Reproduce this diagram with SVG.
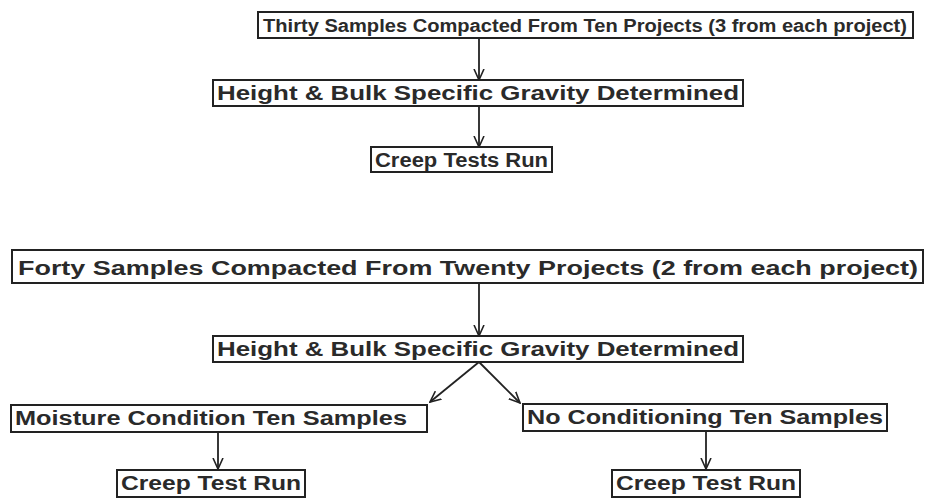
<svg xmlns="http://www.w3.org/2000/svg" width="931" height="502" viewBox="0 0 931 502">
<defs>
<marker id="ah" viewBox="0 0 12 12" refX="11" refY="6" markerWidth="12" markerHeight="12" markerUnits="userSpaceOnUse" orient="auto">
<path d="M0,1 L11,6 L0,11" fill="none" stroke="#222" stroke-width="1.6"/>
</marker>
</defs>
<style>
.box{fill:#fff;stroke:#222;stroke-width:2}
.t{font-family:"Liberation Sans",Arial,sans-serif;font-size:20px;font-weight:bold;fill:#2a2a2a}
.s{font-size:18px}
.c{stroke:#222;stroke-width:1.8;fill:none;marker-end:url(#ah)}
</style>
<g id="connectors">
<line class="c" x1="479" y1="37" x2="479" y2="80"/>
<line class="c" x1="479" y1="106" x2="479" y2="147"/>
<line class="c" x1="479" y1="283" x2="479" y2="336"/>
<line class="c" x1="479" y1="362" x2="430" y2="402"/>
<line class="c" x1="479" y1="362" x2="520" y2="403"/>
<line class="c" x1="218" y1="432" x2="218" y2="469"/>
<line class="c" x1="706" y1="431" x2="706" y2="469"/>
</g>
<g id="n1"><rect class="box" x="258" y="12" width="655" height="26"/><text class="t s" x="263" y="32" textLength="644" lengthAdjust="spacingAndGlyphs">Thirty Samples Compacted From Ten Projects (3 from each project)</text></g>
<g id="n2"><rect class="box" x="213" y="80" width="530" height="26"/><text class="t" x="217" y="100" textLength="522" lengthAdjust="spacingAndGlyphs">Height &amp; Bulk Specific Gravity Determined</text></g>
<g id="n3"><rect class="box" x="371" y="147" width="181" height="25"/><text class="t" x="375" y="167" textLength="173" lengthAdjust="spacingAndGlyphs">Creep Tests Run</text></g>
<g id="n4"><rect class="box" x="12" y="250" width="911" height="33"/><text class="t" x="18" y="275" textLength="900" lengthAdjust="spacingAndGlyphs">Forty Samples Compacted From Twenty Projects (2 from each project)</text></g>
<g id="n5"><rect class="box" x="213" y="336" width="530" height="26"/><text class="t" x="217" y="356" textLength="522" lengthAdjust="spacingAndGlyphs">Height &amp; Bulk Specific Gravity Determined</text></g>
<g id="n6"><rect class="box" x="11" y="405" width="416" height="27"/><text class="t" x="15" y="425" textLength="392" lengthAdjust="spacingAndGlyphs">Moisture Condition Ten Samples</text></g>
<g id="n7"><rect class="box" x="523" y="404" width="364" height="27"/><text class="t" x="527" y="424" textLength="356" lengthAdjust="spacingAndGlyphs">No Conditioning Ten Samples</text></g>
<g id="n8"><rect class="box" x="117" y="470" width="188" height="27"/><text class="t" x="121" y="490" textLength="180" lengthAdjust="spacingAndGlyphs">Creep Test Run</text></g>
<g id="n9"><rect class="box" x="612" y="470" width="188" height="27"/><text class="t" x="616" y="490" textLength="180" lengthAdjust="spacingAndGlyphs">Creep Test Run</text></g>
</svg>
